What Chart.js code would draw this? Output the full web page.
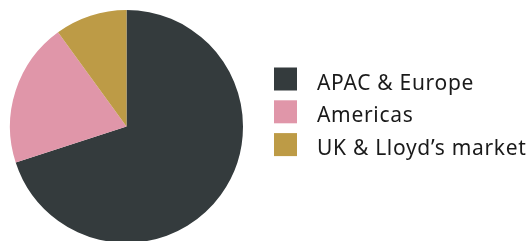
<!DOCTYPE html>
<html>
<head>
<meta charset="utf-8">
<script src="https://cdn.jsdelivr.net/npm/chart.js@4"></script>
<style>
  html, body { margin: 0; padding: 0; background: #fff; overflow: hidden; }
  #wrap { position: relative; width: 529px; height: 243px; }
</style>
</head>
<body>
<div id="wrap"><canvas id="pie"></canvas></div>
<script>
// 資料
const regions = ['APAC & Europe', 'Americas', "UK & Lloyd\u2019s market"];
const shares = [70, 20, 10];
const sliceColors = ['#343b3d', '#e096a9', '#bd9b46'];

// 右側圖例 (自行繪製)
const sideLegend = {
  id: 'sideLegend',
  afterDraw(chart) {
    const ctx = chart.ctx;
    const labels = chart.data.labels;
    const colors = chart.data.datasets[0].backgroundColor;
    ctx.save();
    ctx.font = '21px "Noto Sans"';
    ctx.letterSpacing = '0.7px';
    ctx.textBaseline = 'alphabetic';
    labels.forEach((txt, i) => {
      const y = 67.5 + i * 32.8;
      ctx.fillStyle = colors[i];
      ctx.fillRect(274, y, 23, 23);
      ctx.fillStyle = '#1a1a1a';
      ctx.fillText(txt, 317, y + 22);
    });
    ctx.restore();
  }
};

new Chart(document.getElementById('pie'), {
  type: 'pie',
  data: {
    labels: regions,
    datasets: [{
      data: shares,
      backgroundColor: sliceColors,
      borderWidth: 0
    }]
  },
  options: {
    responsive: true,
    maintainAspectRatio: false,
    animation: false,
    layout: { padding: { left: 10, right: 286, top: 10, bottom: 0 } },
    plugins: { legend: { display: false }, tooltip: { enabled: false } }
  },
  plugins: [sideLegend]
});
</script>
</body>
</html>
